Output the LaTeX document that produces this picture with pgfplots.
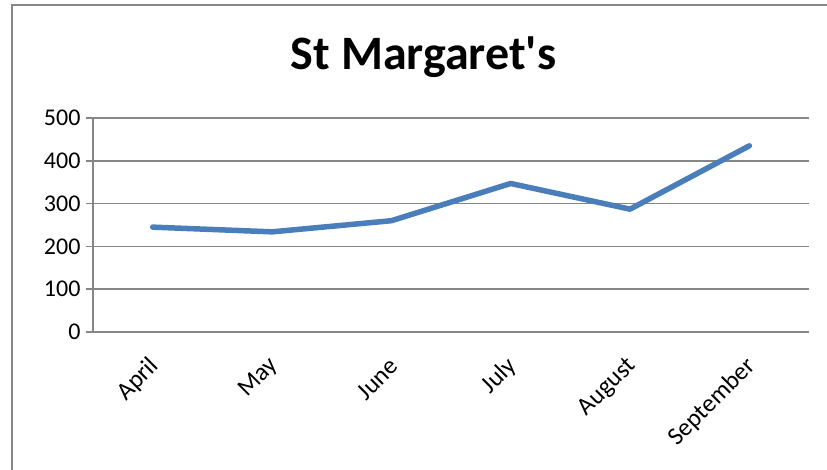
\documentclass[border=0pt]{standalone}
\usepackage{fontspec}
\setmainfont{Carlito}
\newfontfamily\titlefont{Carlito}[Ligatures=TeXOff]
\usepackage{pgfplots}
\pgfplotsset{compat=1.18}
\definecolor{gridgray}{HTML}{868686}
\definecolor{lineblue}{HTML}{4A7EBB}
\begin{document}
\begin{tikzpicture}[x=1pt,y=1pt]
\path[use as bounding box] (0,0) rectangle (827,470);
\draw[gridgray, line width=1.5pt] (12,-5) -- (12,465) -- (840,465);
\begin{axis}[
  at={(93pt,138pt)}, anchor=south west,
  scale only axis, width=716pt, height=214pt,
  xmin=0.5, xmax=6.5, ymin=0, ymax=500,
  xtick={1,...,6},
  xticklabels={April,May,June,July,August,September},
  ytick={0,100,...,500},
  ymajorgrids,
  grid style={gridgray, line width=1.5pt},
  axis x line*=bottom, axis y line*=left,
  axis line style={gridgray, line width=1.5pt, -},
  tick align=outside,
  major tick length=7pt,
  x tick style={draw=none},
  y tick style={gridgray, line width=1.5pt},
  extra x ticks={0.5,1.5,...,6.5},
  extra x tick labels={},
  extra x tick style={major tick length=8pt, tick style={draw=gridgray, line width=1.5pt}},
  tick label style={font=\fontsize{24}{28}\selectfont, black},
  /pgf/number format/assume math mode=true,
  xticklabel style={font=\fontsize{25}{29}\selectfont, xshift=5pt, yshift=-21pt, rotate=45, anchor=east},
  yticklabel style={xshift=-2pt},
  title={St Margaret's},
  title style={font=\fontsize{48}{56}\titlefont\bfseries, at={(rel axis cs:0.4616,1.2009)}, anchor=base},
]
\addplot[lineblue, line width=5.5pt, line cap=round, line join=round] coordinates {
  (1,245) (2,234) (3,260) (4,347) (5,287) (6,435)
};
\end{axis}
\end{tikzpicture}
\end{document}
